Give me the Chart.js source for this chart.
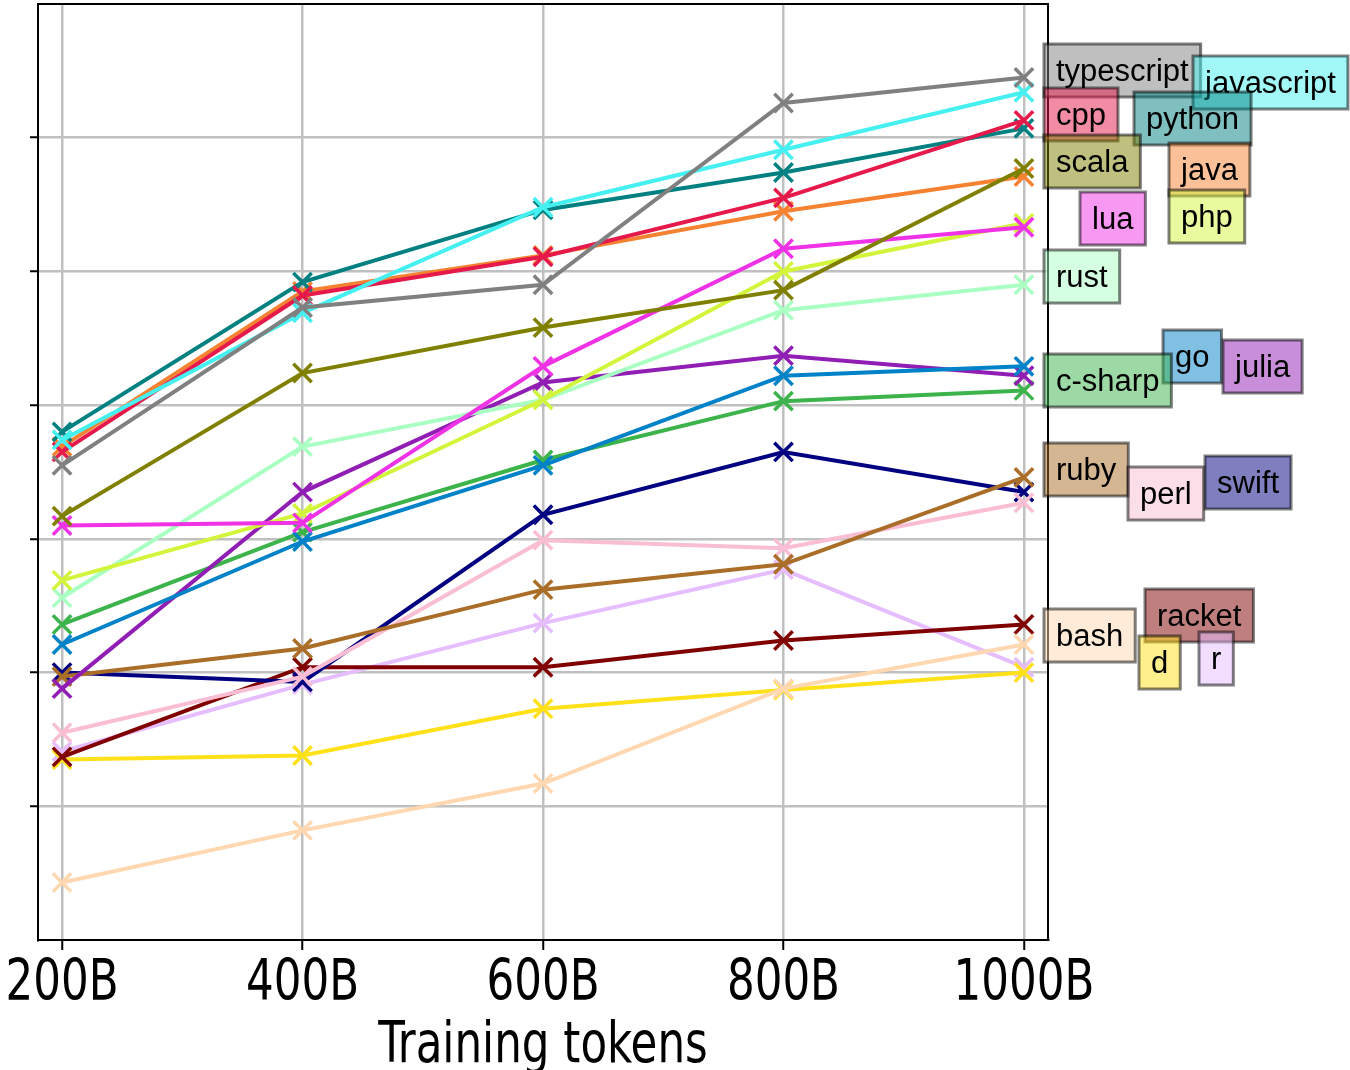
<!DOCTYPE html>
<html>
<head>
<meta charset="utf-8">
<script src="https://cdn.jsdelivr.net/npm/chart.js@4.4.1/dist/chart.umd.min.js"></script>
<style>
  html, body { margin: 0; padding: 0; background: #fff; }
</style>
</head>
<body>
<canvas id="chart" width="1350" height="1070"></canvas>
<script>
// x positions (billions of training tokens) and axis ticks
const tokens = [200, 400, 600, 800, 1000];
const xTicks = [200, 400, 600, 800, 1000];
const yTicks = [1, 2, 3, 4, 5, 6];
const xTitle = 'Training tokens';

// per-language scores (y axis has no labels, values read off the gridlines)
const typescript = [3.55, 4.73, 4.90, 6.26, 6.45];
const javascript = [3.74, 4.69, 5.48, 5.91, 6.34];
const cpp        = [3.65, 4.82, 5.11, 5.55, 6.13];
const python     = [3.80, 4.92, 5.46, 5.74, 6.07];
const scala      = [3.17, 4.24, 4.58, 4.86, 5.77];
const java       = [3.69, 4.85, 5.12, 5.45, 5.71];
const lua        = [3.10, 3.12, 4.29, 5.17, 5.33];
const php        = [2.69, 3.19, 4.04, 5.00, 5.36];
const rust       = [2.56, 3.69, 4.04, 4.71, 4.90];
const go         = [2.21, 2.98, 3.55, 4.22, 4.29];
const julia      = [1.88, 3.35, 4.17, 4.37, 4.22];
const cSharp     = [2.36, 3.05, 3.59, 4.03, 4.11];
const ruby       = [1.97, 2.18, 2.62, 2.81, 3.46];
const perl       = [1.55, 1.97, 2.99, 2.93, 3.27];
const swift      = [2.00, 1.93, 3.18, 3.65, 3.35];
const bash       = [0.43, 0.82, 1.17, 1.88, 2.21];
const racket     = [1.37, 2.04, 2.04, 2.24, 2.36];
const d          = [1.35, 1.38, 1.73, 1.87, 2.00];
const r          = [1.41, 1.91, 2.37, 2.77, 2.04];

const series = [
  ['typescript', typescript, '#808080'],
  ['javascript', javascript, '#46f0f0'],
  ['cpp', cpp, '#e6194b'],
  ['python', python, '#008080'],
  ['scala', scala, '#808000'],
  ['java', java, '#f58231'],
  ['lua', lua, '#f032e6'],
  ['php', php, '#d2f53c'],
  ['rust', rust, '#aaffc3'],
  ['go', go, '#0082c8'],
  ['julia', julia, '#911eb4'],
  ['c-sharp', cSharp, '#3cb44b'],
  ['ruby', ruby, '#aa6e28'],
  ['perl', perl, '#fabed4'],
  ['swift', swift, '#000080'],
  ['bash', bash, '#ffd8b1'],
  ['racket', racket, '#800000'],
  ['d', d, '#ffe119'],
  ['r', r, '#e6beff']
];

// where the name boxes sit, right of the plot (left edge, top edge in px)
const labelSpots = {
  'typescript': [1044, 44], 'javascript': [1193, 56], 'cpp': [1044, 88],
  'python': [1134, 92], 'scala': [1044, 135], 'java': [1169, 143],
  'lua': [1080, 192], 'php': [1169, 190], 'rust': [1044, 250],
  'go': [1163, 330], 'julia': [1223, 340], 'c-sharp': [1044, 354],
  'ruby': [1044, 443], 'perl': [1128, 467], 'swift': [1205, 456],
  'bash': [1044, 609], 'racket': [1145, 589], 'd': [1139, 636], 'r': [1199, 632]
};

const axisFont = '57px "DejaVu Sans Condensed", "DejaVu Sans", sans-serif';
const labelFont = '31px "Liberation Sans", Arial, sans-serif';
const squeeze = 0.85; // axis text in the original is tall and narrow

function withAlpha(hex, a) {
  const n = parseInt(hex.slice(1), 16);
  return `rgba(${n >> 16}, ${(n >> 8) & 255}, ${n & 255}, ${a})`;
}

function noPad(ax) {
  ax.paddingLeft = 0; ax.paddingRight = 0;
  ax.paddingTop = 0; ax.paddingBottom = 0;
}

// closes the box on top and right like matplotlib spines
const frame = {
  id: 'frame',
  afterDatasetsDraw(chart) {
    const { ctx, chartArea: a } = chart;
    ctx.save();
    ctx.strokeStyle = '#000';
    ctx.lineWidth = 2;
    ctx.strokeRect(a.left, a.top, a.right - a.left, a.bottom - a.top);
    ctx.restore();
  }
};

// x tick labels + title, drawn narrow
const xText = {
  id: 'xText',
  afterDraw(chart) {
    const ctx = chart.ctx;
    const sx = chart.scales.x;
    const a = chart.chartArea;
    ctx.save();
    ctx.font = axisFont;
    ctx.fillStyle = '#000';
    ctx.textAlign = 'center';
    ctx.textBaseline = 'alphabetic';
    const put = (txt, x, y) => {
      ctx.save();
      ctx.translate(x, y);
      ctx.scale(squeeze, 1);
      ctx.fillText(txt, 0, 0);
      ctx.restore();
    };
    xTicks.forEach(v => put(v + 'B', sx.getPixelForValue(v), a.bottom + 60));
    put(xTitle, (a.left + a.right) / 2, a.bottom + 122);
    ctx.restore();
  }
};

const nameBoxes = {
  id: 'nameBoxes',
  afterDraw(chart) {
    const ctx = chart.ctx;
    ctx.save();
    ctx.font = labelFont;
    ctx.textBaseline = 'alphabetic';
    series.forEach(([name, , color]) => {
      const [x, top] = labelSpots[name];
      const w = ctx.measureText(name).width + 24;
      ctx.fillStyle = withAlpha(color, 0.5);
      ctx.fillRect(x, top, w, 53);
      ctx.strokeStyle = 'rgba(0, 0, 0, 0.5)';
      ctx.lineWidth = 3;
      ctx.strokeRect(x, top, w, 53);
      ctx.fillStyle = '#000';
      ctx.fillText(name, x + 12, top + 37);
    });
    ctx.restore();
  }
};

new Chart(document.getElementById('chart'), {
  type: 'line',
  data: {
    datasets: series.map(([name, vals, color]) => ({
      label: name,
      data: tokens.map((t, i) => ({ x: t, y: vals[i] })),
      borderColor: color,
      backgroundColor: color,
      borderWidth: 4,
      pointStyle: 'crossRot',
      pointRadius: 13,
      pointBorderWidth: 3.5,
      pointBorderColor: color,
      fill: false,
      tension: 0
    }))
  },
  options: {
    responsive: false,
    animation: false,
    devicePixelRatio: 1,
    layout: { autoPadding: false, padding: { top: 4, right: 302, left: 0, bottom: 0 } },
    plugins: {
      legend: { display: false },
      tooltip: { enabled: false }
    },
    scales: {
      x: {
        type: 'linear',
        min: 180,
        max: 1020,
        afterBuildTicks: ax => { ax.ticks = xTicks.map(v => ({ value: v })); },
        afterFit: ax => { ax.height = 130; noPad(ax); },
        grid: { color: '#c0c0c0', lineWidth: 2.5, tickLength: 10, tickColor: '#000', tickWidth: 2 },
        border: { color: '#000', width: 2 },
        ticks: { display: false }
      },
      y: {
        min: 0,
        max: 7,
        afterBuildTicks: ax => { ax.ticks = yTicks.map(v => ({ value: v })); },
        afterFit: ax => { ax.width = 38; noPad(ax); },
        grid: { color: '#c0c0c0', lineWidth: 2.5, tickLength: 8, tickColor: '#000', tickWidth: 2 },
        border: { color: '#000', width: 2 },
        ticks: { display: false }
      }
    }
  },
  plugins: [frame, xText, nameBoxes]
});
</script>
</body>
</html>
